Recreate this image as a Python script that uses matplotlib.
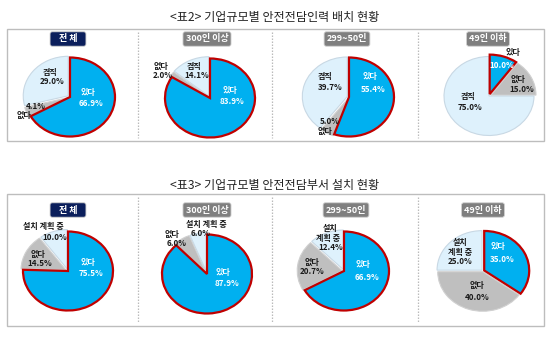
import matplotlib
matplotlib.use("Agg")
import matplotlib.pyplot as plt
from matplotlib.patches import Rectangle

plt.rcParams['font.family'] = ['Noto Sans CJK KR', 'DejaVu Sans']

W, H = 550, 357

# ---------------- data ----------------
title_top = "<표2> 기업규모별 안전전담인력 배치 현황"
title_bottom = "<표3> 기업규모별 안전전담부서 설치 현황"
groups = ["전 체", "300인 이상", "299~50인", "49인 이하"]

cats_top = ["있다", "없다", "겸직"]
vals_top = [
    [66.9, 4.1, 29.0],
    [83.9, 2.0, 14.1],
    [55.4, 5.0, 39.7],
    [10.0, 15.0, 75.0],
]

cats_bottom = ["있다", "없다", "설치 계획 중"]
vals_bottom = [
    [75.5, 14.5, 10.0],
    [87.9, 6.0, 6.0],
    [66.9, 20.7, 12.4],
    [35.0, 40.0, 25.0],
]

# ---------------- styles ----------------
colors = ['#00B0F0', '#BFBFBF', '#DEF1FC']
edgecols = ['#C00000', '#D0D0D0', '#C8D8E4']
linew = [1.6, 0.8, 0.8]
txt = '#1a1a1a'

fig = plt.figure(figsize=(W / 100, H / 100), dpi=100)
fig.patch.set_facecolor('white')


def fx(x):
    return x / W


def fy(y):
    return 1 - y / H


def ftext(x, y, s, **kw):
    kw.setdefault('ha', 'center')
    kw.setdefault('va', 'center')
    kw.setdefault('fontsize', 5.8)
    kw.setdefault('fontweight', 'bold')
    kw.setdefault('color', txt)
    fig.text(fx(x), fy(y), s, **kw)


# titles
ftext(275, 18, title_top, fontsize=8.7, fontweight='normal', color='#222222')
ftext(275, 185, title_bottom, fontsize=8.7, fontweight='normal', color='#222222')

# frames
for (y0, y1) in [(29, 141), (194, 326)]:
    fig.add_artist(Rectangle((fx(7), fy(y1)), fx(544) - fx(7), fy(y0) - fy(y1),
                             transform=fig.transFigure, fill=False,
                             edgecolor='#BDBDBD', linewidth=1.0))
    for sx in [138, 272, 418]:
        fig.add_artist(plt.Line2D([fx(sx), fx(sx)], [fy(y0 + 3), fy(y1 - 3)],
                                  transform=fig.transFigure, color='#BBBBBB',
                                  linewidth=0.9, linestyle=(0, (1.2, 1.2))))

rh, rv = 45, 39.5
centers_top = [(70, 97), (210, 98), (349, 97), (489, 96)]
centers_bot = [(68, 271), (207, 274), (344, 271), (483, 271)]
hdr_top = [(68, 39), (207, 39), (347, 39), (488, 39)]
hdr_bot = [(68, 210), (207, 210), (346, 210), (483, 210)]

explode_top = [
    [0, 0.04, 0.05],
    [0, 0.04, 0.05],
    [0, 0.04, 0.04],
    [0.05, 0.05, 0],
]
explode_bot = [
    [0, 0.05, 0.05],
    [0, 0.05, 0.05],
    [0, 0.04, 0.04],
    [0.03, 0.02, 0.03],
]


def draw_pie(cx, cy, vals, explode):
    k = 1.2
    ax = fig.add_axes([fx(cx - rh * k), fy(cy + rv * k), 2 * rh * k / W, 2 * rv * k / H])
    wedges, _ = ax.pie(vals, colors=colors, startangle=90, counterclock=False,
                       explode=explode,
                       wedgeprops=dict(linewidth=0.8))
    for w, ec, lw in zip(wedges, edgecols, linew):
        w.set_edgecolor(ec)
        w.set_linewidth(lw)
    wedges[0].set_zorder(5)
    ax.set_aspect('auto')
    ax.set_xlim(-k, k)
    ax.set_ylim(-k, k)
    ax.axis('off')


for i in range(4):
    draw_pie(*centers_top[i], vals_top[i], explode_top[i])
    draw_pie(*centers_bot[i], vals_bottom[i], explode_bot[i])

# headers
for i, g in enumerate(groups):
    fc = '#0B1F5C' if i == 0 else '#7F7F7F'
    for (hx, hy) in [hdr_top[i], hdr_bot[i]]:
        ftext(hx, hy, g if i else "   " + g + "   ", color='white', fontsize=6.5,
              bbox=dict(boxstyle='round,pad=0.3,rounding_size=0.25', fc=fc, ec='#D0D0D0', lw=0.6))


def pct(v):
    return f"{v:.1f}%"


# ---- top row labels ----
v = vals_top
# pie 1
ftext(50, 72, cats_top[2]); ftext(52, 82, pct(v[0][2]))
ftext(88, 93, cats_top[0], color='white'); ftext(91, 103, pct(v[0][0]), color='white')
ftext(36, 106, pct(v[0][1])); ftext(24, 115, cats_top[1])
# pie 2
ftext(161, 66, cats_top[1]); ftext(163, 75, pct(v[1][1]))
ftext(194, 66, cats_top[2]); ftext(197, 75, pct(v[1][2]))
ftext(230, 90, cats_top[0], color='white'); ftext(232, 102, pct(v[1][0]), color='white')
# pie 3
ftext(325, 77, cats_top[2]); ftext(330, 87, pct(v[2][2]))
ftext(370, 77, cats_top[0], color='white'); ftext(373, 90, pct(v[2][0]), color='white')
ftext(330, 122, pct(v[2][1])); ftext(325, 131, cats_top[1])
# pie 4
ftext(513, 53, cats_top[0]); ftext(502, 66, pct(v[3][0]), color='white')
ftext(518, 79, cats_top[1]); ftext(522, 89, pct(v[3][1]))
ftext(468, 97, cats_top[2]); ftext(470, 108, pct(v[3][2]))

# ---- bottom row labels ----
b = vals_bottom
plan1, plan2 = cats_bottom[2].split(" ", 1)
# pie 1
ftext(43, 227, cats_bottom[2]); ftext(55, 238, pct(b[0][2]))
ftext(38, 254, cats_bottom[1]); ftext(40, 264, pct(b[0][1]))
ftext(88, 262, cats_bottom[0], color='white'); ftext(91, 274, pct(b[0][0]), color='white')
# pie 2
ftext(206, 224, cats_bottom[2]); ftext(201, 234, pct(b[1][2]))
ftext(172, 234, cats_bottom[1]); ftext(177, 243, pct(b[1][1]))
ftext(223, 272, cats_bottom[0], color='white'); ftext(227, 283, pct(b[1][0]), color='white')
# pie 3
ftext(330, 229, plan1); ftext(328, 238, plan2); ftext(331, 248, pct(b[2][2]))
ftext(312, 262, cats_bottom[1]); ftext(312, 272, pct(b[2][1]))
ftext(363, 265, cats_bottom[0], color='white'); ftext(367, 277, pct(b[2][0]), color='white')
# pie 4
ftext(460, 243, plan1); ftext(460, 252, plan2); ftext(460, 262, pct(b[3][2]))
ftext(498, 247, cats_bottom[0], color='white'); ftext(502, 259, pct(b[3][0]), color='white')
ftext(477, 285, cats_bottom[1]); ftext(477, 297, pct(b[3][1]))

fig.savefig("out.png", dpi=100, facecolor='white')
